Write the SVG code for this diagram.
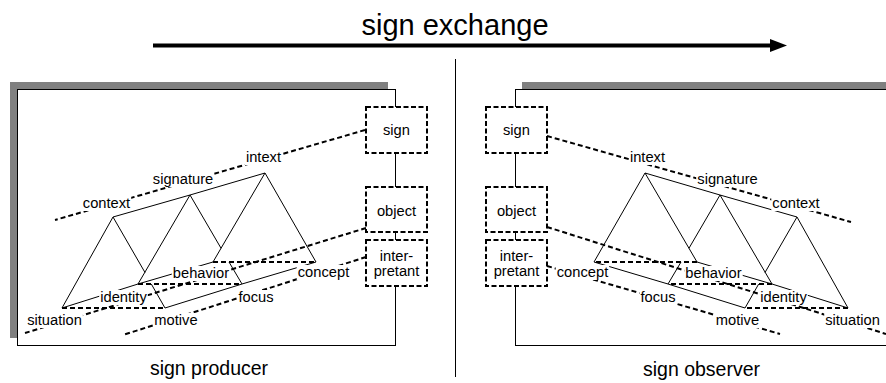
<svg xmlns="http://www.w3.org/2000/svg" width="886" height="383" viewBox="0 0 886 383">
<style>
text{font-family:"Liberation Sans",Arial,sans-serif;fill:#000}
.lbl{font-size:14.7px;text-anchor:middle}
.bg{fill:#fff}
.solid{fill:none;stroke:#000;stroke-width:1}
.dash{fill:none;stroke:#000;stroke-width:2;stroke-dasharray:5,3}
.box{fill:#fff;stroke:#000;stroke-width:2;stroke-dasharray:5,2.5}
.frame{fill:#fff;stroke:#000;stroke-width:1}
.shadow{fill:#808080}
</style>
<defs>
<g id="solids">
<path class="solid" d="M113,217 L190,195 L265,173 M62,308 L113,217 L145,272.5 M151.3,284 L165,308 M138,284 L190,195 L221,248.2 M229,262 L242,284 M213,262 L265,173 L316,262 M62,308 L138,284 L213,262 M165,308 L242,284 L316,262"/>
<path class="dash" d="M62,308 H165 M138,284 H242 M213,262 H316"/>
</g>
</defs>

<g id="title">
<text x="455" y="35" style="font-size:29px;text-anchor:middle">sign exchange</text>
<line x1="153" y1="45.5" x2="773" y2="45.5" stroke="#000" stroke-width="4"/>
<polygon points="770,39 787,45.5 770,52" fill="#000"/>
</g>
<line id="divider" x1="455.5" y1="59" x2="455.5" y2="377" stroke="#000" stroke-width="1"/>

<g id="producer-frame">
<rect class="shadow" x="10" y="82" width="378" height="256"/>
<rect class="frame" x="17.5" y="89.5" width="378" height="256"/>
</g>
<g id="observer-frame">
<rect class="shadow" x="522" y="82" width="380" height="256"/>
<rect class="frame" x="515.5" y="89.5" width="390" height="256"/>
</g>

<g id="connectors">
<use href="#solids"/>
<use href="#solids" transform="matrix(-1,0,0,1,910,0)"/>
<path class="dash" d="M365,130 L55,220"/>
<path class="dash" d="M366,228 L25,333"/>
<path class="dash" d="M366,257 L123,335"/>
<path class="dash" d="M547,136 L851,222"/>
<path class="dash" d="M547,227 L886,334"/>
<path class="dash" d="M547,266 L780,334"/>
</g>

<g id="sign-left"><rect class="box" x="366" y="107" width="61" height="46"/><text class="lbl" x="396.5" y="135">sign</text></g>
<g id="object-left"><rect class="box" x="366" y="187" width="61" height="45"/><text class="lbl" x="396.5" y="216">object</text></g>
<g id="interpretant-left"><rect class="box" x="366" y="240" width="61" height="46"/><text class="lbl" x="396.5" y="261">inter-</text><text class="lbl" x="396.5" y="276">pretant</text></g>

<g id="sign-right"><rect class="box" x="486" y="107" width="61" height="46"/><text class="lbl" x="516.5" y="135">sign</text></g>
<g id="object-right"><rect class="box" x="486" y="187" width="61" height="45"/><text class="lbl" x="516.5" y="216">object</text></g>
<g id="interpretant-right"><rect class="box" x="486" y="240" width="61" height="46"/><text class="lbl" x="516.5" y="261">inter-</text><text class="lbl" x="516.5" y="276">pretant</text></g>

<g id="labels-left">
<g id="context-l"><rect class="bg" x="81.8" y="196" width="49.4" height="15"/><text class="lbl" x="106.5" y="208">context</text></g>
<g id="signature-l"><rect class="bg" x="151.7" y="172" width="62.5" height="15"/><text class="lbl" x="183" y="184">signature</text></g>
<g id="intext-l"><rect class="bg" x="244.9" y="150" width="37.1" height="15"/><text class="lbl" x="263.5" y="162">intext</text></g>
<g id="behavior-l"><rect class="bg" x="171.8" y="266" width="58.4" height="15"/><text class="lbl" x="201" y="278">behavior</text></g>
<g id="identity-l"><rect class="bg" x="99.2" y="290" width="48.6" height="15"/><text class="lbl" x="123.5" y="302">identity</text></g>
<g id="situation-l"><rect class="bg" x="26.2" y="313" width="56.7" height="15"/><text class="lbl" x="54.5" y="325">situation</text></g>
<g id="concept-l"><rect class="bg" x="296.7" y="265" width="53.5" height="15"/><text class="lbl" x="323.5" y="277">concept</text></g>
<g id="focus-l"><rect class="bg" x="237.4" y="290" width="37.1" height="15"/><text class="lbl" x="256" y="302">focus</text></g>
<g id="motive-l"><rect class="bg" x="153.4" y="313" width="45.3" height="15"/><text class="lbl" x="176" y="325">motive</text></g>
</g>

<g id="labels-right">
<g id="intext-r"><rect class="bg" x="628.9" y="150" width="37.1" height="15"/><text class="lbl" x="647.5" y="162">intext</text></g>
<g id="signature-r"><rect class="bg" x="696.2" y="172" width="62.5" height="15"/><text class="lbl" x="727.5" y="184">signature</text></g>
<g id="context-r"><rect class="bg" x="771.3" y="196" width="49.4" height="15"/><text class="lbl" x="796" y="208">context</text></g>
<g id="concept-r"><rect class="bg" x="555.7" y="265" width="53.5" height="15"/><text class="lbl" x="582.5" y="277">concept</text></g>
<g id="behavior-r"><rect class="bg" x="684.3" y="266" width="58.4" height="15"/><text class="lbl" x="713.5" y="278">behavior</text></g>
<g id="focus-r"><rect class="bg" x="639.4" y="290" width="37.1" height="15"/><text class="lbl" x="658" y="302">focus</text></g>
<g id="identity-r"><rect class="bg" x="759.2" y="290" width="48.6" height="15"/><text class="lbl" x="783.5" y="302">identity</text></g>
<g id="motive-r"><rect class="bg" x="714.9" y="313" width="45.3" height="15"/><text class="lbl" x="737.5" y="325">motive</text></g>
<g id="situation-r"><rect class="bg" x="824.2" y="313" width="56.7" height="15"/><text class="lbl" x="852.5" y="325">situation</text></g>
</g>

<text x="209" y="375" style="font-size:19.5px;text-anchor:middle">sign producer</text>
<text x="701.5" y="376" style="font-size:19.5px;text-anchor:middle">sign observer</text>
</svg>
